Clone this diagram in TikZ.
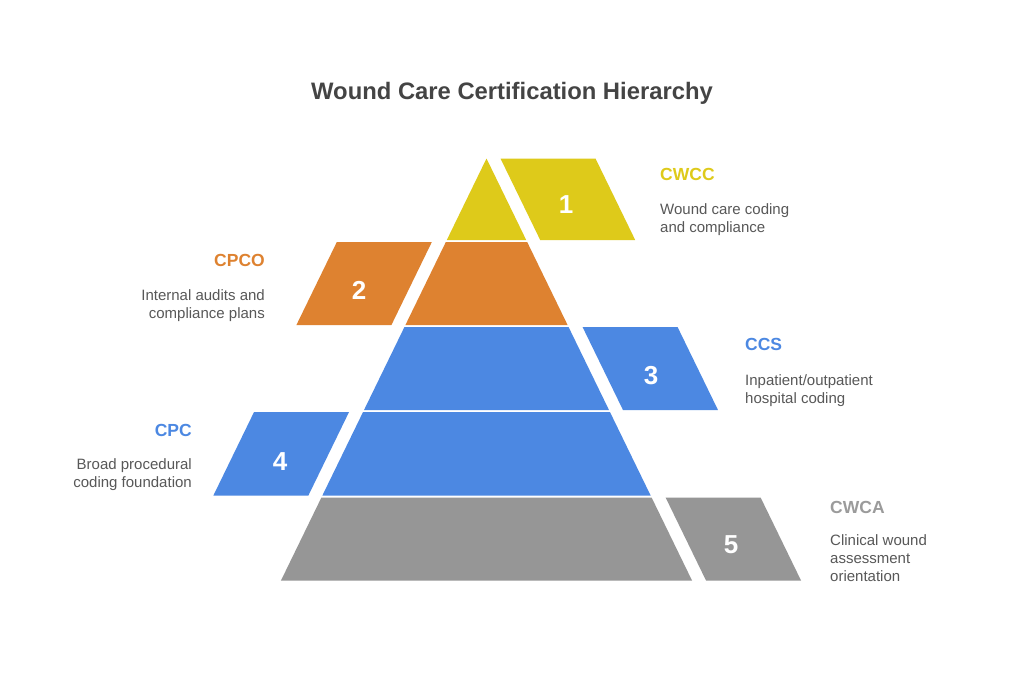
\documentclass[tikz,border=0pt]{standalone}
\usepackage{fontspec}
\setmainfont{Liberation Sans}
\definecolor{cyellow}{RGB}{222,202,26}
\definecolor{corange}{RGB}{222,130,48}
\definecolor{cblue}{RGB}{76,136,226}
\definecolor{cgray}{RGB}{150,150,150}
\definecolor{labgray}{RGB}{155,155,155}
\definecolor{titlegray}{RGB}{68,68,68}
\definecolor{descgray}{RGB}{88,88,88}
\tikzset{
  numlbl/.style={text=white,font=\fontsize{26}{30}\selectfont\bfseries,inner sep=0pt},
  headlbl/.style={font=\fontsize{17.5}{20}\selectfont\bfseries,inner sep=0pt},
  desclbl/.style={text=descgray,font=\fontsize{15}{18}\selectfont,inner sep=0pt},
}
\newcommand\Lx[1]{{486.5-0.487*((#1)-158.5)}}
\newcommand\Rx[1]{{486.5+0.487*((#1)-158.5)}}
\begin{document}
\begin{tikzpicture}[x=1pt,y=-1pt]
\useasboundingbox (0,0) rectangle (1024,683);
\fill[white] (0,0) rectangle (1024,683);
% title
\node[anchor=base,text=titlegray,font=\fontsize{23.8}{28}\selectfont\bfseries,inner sep=0pt] (title) at (512,99) {Wound Care Certification Hierarchy};
% pyramid layers
\fill[cyellow] (486.5,158.5) -- (\Rx{240},240) -- (\Lx{240},240) -- cycle;
\fill[corange] (\Lx{242},242) -- (\Rx{242},242) -- (\Rx{325},325) -- (\Lx{325},325) -- cycle;
\fill[cblue] (\Lx{327},327) -- (\Rx{327},327) -- (\Rx{410},410) -- (\Lx{410},410) -- cycle;
\fill[cblue] (\Lx{412},412) -- (\Rx{412},412) -- (\Rx{495.5},495.5) -- (\Lx{495.5},495.5) -- cycle;
\fill[cgray] (\Lx{497.5},497.5) -- (\Rx{497.5},497.5) -- (\Rx{580.5},580.5) -- (\Lx{580.5},580.5) -- cycle;
% parallelograms right side
\fill[cyellow] ({486.5+0.487*(158.5-158.5)+14},158.5) -- ({486.5+0.487*(158.5-158.5)+109},158.5) -- ({486.5+0.487*(240-158.5)+109},240) -- ({486.5+0.487*(240-158.5)+14},240) -- cycle;
\fill[cblue] ({486.5+0.487*(327-158.5)+14},327) -- ({486.5+0.487*(327-158.5)+109},327) -- ({486.5+0.487*(410-158.5)+109},410) -- ({486.5+0.487*(410-158.5)+14},410) -- cycle;
\fill[cgray] ({486.5+0.487*(497.5-158.5)+14},497.5) -- ({486.5+0.487*(497.5-158.5)+109},497.5) -- ({486.5+0.487*(580.5-158.5)+109},580.5) -- ({486.5+0.487*(580.5-158.5)+14},580.5) -- cycle;
% parallelograms left side
\fill[corange] ({486.5-0.487*(242-158.5)-14},242) -- ({486.5-0.487*(242-158.5)-109},242) -- ({486.5-0.487*(325-158.5)-109},325) -- ({486.5-0.487*(325-158.5)-14},325) -- cycle;
\fill[cblue] ({486.5-0.487*(412-158.5)-14},412) -- ({486.5-0.487*(412-158.5)-109},412) -- ({486.5-0.487*(495.5-158.5)-109},495.5) -- ({486.5-0.487*(495.5-158.5)-14},495.5) -- cycle;
% numbers
\node[numlbl] (n1) at (566,205) {1};
\node[numlbl] (n2) at (359,290.5) {2};
\node[numlbl] (n3) at (651,376) {3};
\node[numlbl] (n4) at (280,461.5) {4};
\node[numlbl] (n5) at (731,545) {5};
% labels
\node[headlbl,text=cyellow,anchor=base west] (h1) at (660,180) {CWCC};
\node[desclbl,anchor=base west] (d1a) at (660,214) {Wound care coding};
\node[desclbl,anchor=base west] (d1b) at (660,232) {and compliance};
\node[headlbl,text=corange,anchor=base east] (h2) at (265,266) {CPCO};
\node[desclbl,anchor=base east] (d2a) at (265,300) {Internal audits and};
\node[desclbl,anchor=base east] (d2b) at (265,318) {compliance plans};
\node[headlbl,text=cblue,anchor=base west] (h3) at (745,350.5) {CCS};
\node[desclbl,anchor=base west] (d3a) at (745,385) {Inpatient/outpatient};
\node[desclbl,anchor=base west] (d3b) at (745,403) {hospital coding};
\node[headlbl,text=cblue,anchor=base east] (h4) at (192,436) {CPC};
\node[desclbl,anchor=base east] (d4a) at (192,469) {Broad procedural};
\node[desclbl,anchor=base east] (d4b) at (192,487) {coding foundation};
\node[headlbl,text=labgray,anchor=base west] (h5) at (830,513) {CWCA};
\node[desclbl,anchor=base west] (d5a) at (830,545) {Clinical wound};
\node[desclbl,anchor=base west] (d5b) at (830,563) {assessment};
\node[desclbl,anchor=base west] (d5c) at (830,581) {orientation};
\end{tikzpicture}
\end{document}
